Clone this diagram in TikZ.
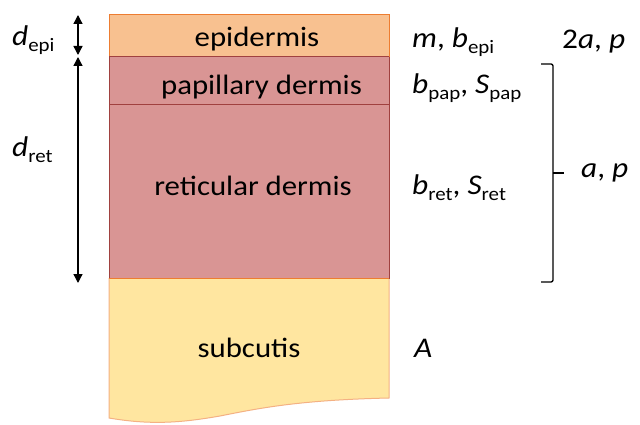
\documentclass[tikz,border=0pt]{standalone}
\usepackage{fontspec}
\setmainfont[FakeStretch=1.1]{Carlito}
\usetikzlibrary{arrows.meta}
\definecolor{epifill}{HTML}{F8C190}
\definecolor{epiline}{HTML}{ED7D31}
\definecolor{derfill}{HTML}{D99594}
\definecolor{derline}{HTML}{A0413F}
\definecolor{subfill}{HTML}{FFE6A0}
\definecolor{subline}{HTML}{F4B183}
\newcommand\lsub[1]{\raisebox{-0.45ex}{\fontsize{19}{19}\selectfont #1}}
\tikzset{
  lbl/.style={font=\fontsize{28}{28}\selectfont, inner sep=0pt},
  plbl/.style={font=\fontsize{28.5}{28.5}\selectfont, inner sep=0pt, anchor=west},
  dimarrow/.style={{Triangle[width=9pt,length=9pt]}-{Triangle[width=9pt,length=9pt]}, line width=1.3pt},
  layer/.style={line width=1pt},
}
\begin{document}
\begin{tikzpicture}[x=1pt,y=-1pt]
\useasboundingbox[fill=white] (0,0) rectangle (640,425);
% subcutis
\fill[subfill] (109,278) -- (389,278) -- (389,398) .. controls (300,400) and (260,408) .. (220,416) .. controls (180,423) and (150,425) .. (109,418) -- cycle;
\draw[subline,layer] (109,278) -- (109,418) .. controls (150,425) and (180,423) .. (220,416) .. controls (260,408) and (300,400) .. (389,398) -- (389,278);
% dermis
\draw[derline,layer,fill=derfill] (109,105) rectangle (389,278);
\draw[derline,layer,fill=derfill] (109,57) rectangle (389,105);
\draw[epiline,layer] (109,278) -- (389,278);
% epidermis
\draw[epiline,layer,fill=epifill] (109,15) rectangle (389,57);
\draw[derline,layer] (109,57) -- (389,57);

\node[lbl] (tepi) at (257,39) {epidermis};
\node[lbl] (tpap) at (261.5,87) {papillary dermis};
\node[lbl] (tret) at (253,186) {reticular dermis};
\node[lbl] (tsub) at (249,348) {subcutis};

% dimension arrows
\coordinate (e1) at (78,15);
\coordinate (e2) at (78,55);
\coordinate (r1) at (78,57);
\coordinate (r2) at (78,283);
\draw[dimarrow] (e1) -- (e2);
\draw[dimarrow] (r1) -- (r2);
\node[plbl] (ldepi) at (12,40) {\textit{d}\lsub{epi}};
\node[plbl] (ldret) at (12,150) {\textit{d}\lsub{ret}};

% right labels
\node[plbl] (pepi) at (412,42) {\textit{m}, \textit{b}\lsub{epi}};
\node[plbl] (ppap) at (412,88) {\textit{b}\lsub{pap}, \textit{S}\lsub{pap}};
\node[plbl] (pret) at (412,188) {\textit{b}\lsub{ret}, \textit{S}\lsub{ret}};
\node[plbl] (psub) at (414,348) {\textit{A}};
\node[plbl] (pap2) at (562,42) {2\textit{a}, \textit{p}};
\node[plbl] (pap) at (581,173) {\textit{a}, \textit{p}};

% bracket
\coordinate (b1) at (541,64);
\coordinate (b2) at (553,64);
\coordinate (b3) at (553,282);
\coordinate (b4) at (541,282);
\coordinate (bm) at (553,173);
\coordinate (bt) at (564,173);
\draw[line width=1.3pt, rounded corners=2pt] (b1) -- (b2) -- (b3) -- (b4);
\draw[line width=1.3pt] (bm) -- (bt);
\end{tikzpicture}
\end{document}
